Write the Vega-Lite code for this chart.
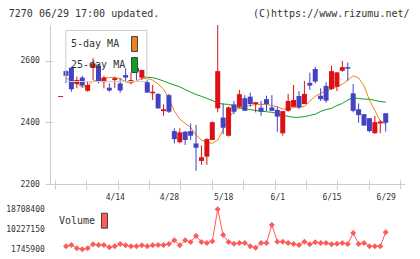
{
"$schema": "https://vega.github.io/schema/vega-lite/v6.json",
"width": 355, "height": 224.3,
"autosize": {"type": "none"},
"padding": {"left": 50, "top": 25, "right": 15, "bottom": 9.7},
"config": {"view": {"stroke": null}, "font": "DejaVu Sans Mono",
 "axis": {"grid": false, "domainColor": "#cccccc", "tickColor": "#cccccc", "labelColor": "#333333", "labelFont": "DejaVu Sans Mono", "labelFontSize": 8, "titleFont": "DejaVu Sans Mono", "titleFontSize": 10, "titleColor": "#333333", "titleFontWeight": "normal"}},
"data": {"values": [
{"i":-1,"d":"3/31","o":2483,"h":2486,"l":2483,"c":2486,"ma5":null,"ma25":null,"v":null},
{"i":0,"d":"4/1","o":2567,"h":2570,"l":2528,"c":2552,"ma5":2544,"ma25":null,"v":3018000},
{"i":1,"d":"4/2","o":2578,"h":2581,"l":2500,"c":2508,"ma5":2538,"ma25":null,"v":3583500},
{"i":2,"d":"4/3","o":2525,"h":2549,"l":2511,"c":2538,"ma5":2528,"ma25":null,"v":2170000},
{"i":3,"d":"4/6","o":2546,"h":2552,"l":2514,"c":2520,"ma5":2514,"ma25":null,"v":1745900},
{"i":4,"d":"4/7","o":2503,"h":2533,"l":2500,"c":2522,"ma5":2519,"ma25":null,"v":2170000},
{"i":5,"d":"4/8","o":2578,"h":2609,"l":2538,"c":2592,"ma5":2535,"ma25":null,"v":3866200},
{"i":6,"d":"4/9","o":2585,"h":2589,"l":2527,"c":2533,"ma5":2538,"ma25":null,"v":3583500},
{"i":7,"d":"4/10","o":2531,"h":2552,"l":2511,"c":2546,"ma5":2545,"ma25":null,"v":3583500},
{"i":8,"d":"4/13","o":2513,"h":2527,"l":2500,"c":2504,"ma5":2546,"ma25":null,"v":2594000},
{"i":9,"d":"4/14","o":2538,"h":2549,"l":2513,"c":2544,"ma5":2546,"ma25":null,"v":3018000},
{"i":10,"d":"4/15","o":2527,"h":2544,"l":2497,"c":2504,"ma5":2543,"ma25":null,"v":4007600},
{"i":11,"d":"4/16","o":2554,"h":2576,"l":2533,"c":2546,"ma5":2532,"ma25":null,"v":3442100},
{"i":12,"d":"4/17","o":2533,"h":2562,"l":2524,"c":2538,"ma5":2528,"ma25":null,"v":3018000},
{"i":13,"d":"4/20","o":2578,"h":2592,"l":2538,"c":2565,"ma5":2535,"ma25":null,"v":3018000},
{"i":14,"d":"4/21","o":2546,"h":2571,"l":2538,"c":2571,"ma5":2544,"ma25":2549,"v":3442100},
{"i":15,"d":"4/22","o":2531,"h":2538,"l":2497,"c":2497,"ma5":2543,"ma25":2547,"v":3018000},
{"i":16,"d":"4/23","o":2495,"h":2522,"l":2473,"c":2500,"ma5":2538,"ma25":2546,"v":3442100},
{"i":17,"d":"4/24","o":2493,"h":2495,"l":2444,"c":2446,"ma5":2525,"ma25":2541,"v":3583500},
{"i":18,"d":"4/27","o":2437,"h":2459,"l":2422,"c":2443,"ma5":2509,"ma25":2535,"v":3583500},
{"i":19,"d":"4/28","o":2489,"h":2493,"l":2431,"c":2435,"ma5":2478,"ma25":2528,"v":4007600},
{"i":20,"d":"4/30","o":2372,"h":2381,"l":2332,"c":2346,"ma5":2437,"ma25":2522,"v":5562500},
{"i":21,"d":"5/1","o":2336,"h":2381,"l":2332,"c":2368,"ma5":2411,"ma25":2516,"v":3442100},
{"i":22,"d":"5/7","o":2370,"h":2372,"l":2327,"c":2343,"ma5":2397,"ma25":2507,"v":5562500},
{"i":23,"d":"5/8","o":2372,"h":2397,"l":2343,"c":2357,"ma5":2384,"ma25":2499,"v":4855700},
{"i":24,"d":"5/11","o":2332,"h":2392,"l":2243,"c":2318,"ma5":2359,"ma25":2491,"v":7400100},
{"i":25,"d":"5/12","o":2275,"h":2325,"l":2262,"c":2287,"ma5":2343,"ma25":2485,"v":4855700},
{"i":26,"d":"5/13","o":2289,"h":2349,"l":2262,"c":2346,"ma5":2335,"ma25":2478,"v":4431600},
{"i":27,"d":"5/14","o":2343,"h":2403,"l":2343,"c":2401,"ma5":2332,"ma25":2472,"v":5138400},
{"i":28,"d":"5/15","o":2446,"h":2717,"l":2433,"c":2567,"ma5":2343,"ma25":2463,"v":18708400},
{"i":29,"d":"5/18","o":2416,"h":2462,"l":2362,"c":2383,"ma5":2376,"ma25":2460,"v":7824100},
{"i":30,"d":"5/19","o":2357,"h":2452,"l":2354,"c":2449,"ma5":2414,"ma25":2459,"v":4855700},
{"i":31,"d":"5/20","o":2459,"h":2470,"l":2427,"c":2435,"ma5":2436,"ma25":2454,"v":4148900},
{"i":32,"d":"5/21","o":2451,"h":2506,"l":2448,"c":2492,"ma5":2447,"ma25":2447,"v":4431600},
{"i":33,"d":"5/22","o":2479,"h":2489,"l":2438,"c":2438,"ma5":2452,"ma25":2445,"v":4431600},
{"i":34,"d":"5/25","o":2484,"h":2497,"l":2451,"c":2460,"ma5":2455,"ma25":2442,"v":3018000},
{"i":35,"d":"5/26","o":2460,"h":2466,"l":2433,"c":2466,"ma5":2459,"ma25":2439,"v":2452700},
{"i":36,"d":"5/27","o":2448,"h":2470,"l":2422,"c":2435,"ma5":2459,"ma25":2437,"v":4431600},
{"i":37,"d":"5/28","o":2476,"h":2487,"l":2437,"c":2460,"ma5":2459,"ma25":2435,"v":4431600},
{"i":38,"d":"5/29","o":2449,"h":2489,"l":2437,"c":2438,"ma5":2455,"ma25":2433,"v":12064700},
{"i":39,"d":"6/1","o":2441,"h":2451,"l":2370,"c":2419,"ma5":2451,"ma25":2429,"v":4997000},
{"i":40,"d":"6/2","o":2365,"h":2437,"l":2357,"c":2437,"ma5":2444,"ma25":2423,"v":4997000},
{"i":41,"d":"6/3","o":2438,"h":2493,"l":2435,"c":2470,"ma5":2444,"ma25":2420,"v":4431600},
{"i":42,"d":"6/4","o":2451,"h":2522,"l":2451,"c":2473,"ma5":2449,"ma25":2417,"v":4007600},
{"i":43,"d":"6/5","o":2486,"h":2502,"l":2443,"c":2449,"ma5":2450,"ma25":2417,"v":3583500},
{"i":44,"d":"6/8","o":2460,"h":2535,"l":2460,"c":2493,"ma5":2452,"ma25":2419,"v":4997000},
{"i":45,"d":"6/9","o":2529,"h":2562,"l":2506,"c":2520,"ma5":2470,"ma25":2423,"v":3866200},
{"i":46,"d":"6/10","o":2574,"h":2581,"l":2527,"c":2533,"ma5":2485,"ma25":2427,"v":4714300},
{"i":47,"d":"6/11","o":2487,"h":2511,"l":2470,"c":2476,"ma5":2495,"ma25":2436,"v":4431600},
{"i":48,"d":"6/12","o":2519,"h":2531,"l":2464,"c":2471,"ma5":2502,"ma25":2442,"v":4431600},
{"i":49,"d":"6/15","o":2509,"h":2585,"l":2506,"c":2567,"ma5":2509,"ma25":2446,"v":3866200},
{"i":50,"d":"6/16","o":2516,"h":2563,"l":2502,"c":2563,"ma5":2517,"ma25":2455,"v":4148900},
{"i":51,"d":"6/17","o":2568,"h":2600,"l":2565,"c":2580,"ma5":2524,"ma25":2462,"v":4431600},
{"i":52,"d":"6/18","o":2580,"h":2595,"l":2535,"c":2575,"ma5":2538,"ma25":2473,"v":4007600},
{"i":53,"d":"6/19","o":2495,"h":2525,"l":2433,"c":2438,"ma5":2552,"ma25":2481,"v":8672200},
{"i":54,"d":"6/22","o":2443,"h":2462,"l":2399,"c":2424,"ma5":2545,"ma25":2478,"v":4007600},
{"i":55,"d":"6/23","o":2427,"h":2427,"l":2390,"c":2390,"ma5":2519,"ma25":2476,"v":4431600},
{"i":56,"d":"6/24","o":2414,"h":2414,"l":2368,"c":2372,"ma5":2473,"ma25":2476,"v":3018000},
{"i":57,"d":"6/25","o":2365,"h":2422,"l":2363,"c":2401,"ma5":2439,"ma25":2472,"v":3018000},
{"i":58,"d":"6/26","o":2397,"h":2408,"l":2365,"c":2403,"ma5":2405,"ma25":2468,"v":3018000},
{"i":59,"d":"6/29","o":2430,"h":2430,"l":2370,"c":2399,"ma5":2393,"ma25":2466,"v":8955000}
]},
"layer": [
 {"layer": [
  {"transform": [{"fold": ["ma5","ma25"], "as": ["series","ma"]}],
   "mark": {"type": "line", "strokeWidth": 1},
   "encoding": {
    "x": {"field": "i", "type": "quantitative", "scale": {"domain": [-2.027, 61.64], "nice": false, "zero": false},
          "axis": {"orient": "bottom", "values": [-2.027, 3.761, 9.55, 15.34, 21.13, 26.92, 32.70, 38.49, 44.28, 50.06, 55.85, 61.64], "labels": false, "domain": false, "ticks": true, "tickSize": 9, "offset": -69.3, "title": null}},
    "y": {"field": "ma", "type": "quantitative", "scale": {"domain": [2200, 2717], "range": [159, 0], "nice": false, "zero": false},
          "axis": {"orient": "left", "values": [2200, 2400, 2600], "format": "d", "domain": false, "tickSize": 8, "offset": -3, "labelPadding": 5.7, "title": null}},
    "stroke": {"field": "series", "type": "nominal", "scale": {"domain": ["ma5","ma25"], "range": ["#f0821e","#10a020"]}, "legend": null}
   }},
  {"mark": {"type": "rule", "strokeWidth": 1},
   "encoding": {
    "x": {"field": "i", "type": "quantitative",
          "axis": {"orient": "bottom", "labels": false, "ticks": false, "domain": true, "offset": -65.3, "title": "(C)https://www.rizumu.net/", "titleX": 359, "titleY": -167.5, "titleAlign": "right", "titleBaseline": "alphabetic"}},
    "y": {"field": "l", "type": "quantitative",
          "axis": {"orient": "left", "labels": false, "ticks": false, "domain": true, "title": "7270 06/29 17:00 updated.", "titleAngle": 0, "titleX": -41.7, "titleY": -8.5, "titleAlign": "left", "titleBaseline": "alphabetic"}},
    "y2": {"field": "h"},
    "color": {"condition": {"test": "datum.c >= datum.o", "value": "#dd1111"}, "value": "#4242c2"}
   }},
  {"mark": {"type": "bar", "width": 5},
   "encoding": {
    "x": {"field": "i", "type": "quantitative",
          "axis": {"orient": "bottom", "values": [9,19,29,39,49,59], "labelExpr": "['4/14','4/28','5/18','6/1','6/15','6/29'][(datum.value-9)/10]", "ticks": false, "domain": false, "labelPadding": 9.5, "offset": -65.3, "labelFlush": false, "labelOverlap": false, "title": null}},
    "y": {"field": "o", "type": "quantitative", "axis": null},
    "y2": {"field": "c"},
    "color": {"condition": {"test": "datum.c >= datum.o", "value": "#dd1111"}, "value": "#4242c2"}
   }},
  {"transform": [{"fold": ["ma5","ma25"], "as": ["series","ma"]}, {"filter": "false"}],
   "mark": {"type": "square", "opacity": 1},
   "encoding": {
    "fill": {"field": "series", "type": "nominal", "scale": {"domain": ["ma5","ma25"], "range": ["#f0821e","#10a020"]},
      "legend": {"orient": "none", "legendX": 15.3, "legendY": 5, "title": null, "symbolType": "M-0.4,-1H0.4V1H-0.4Z", "symbolSize": 225, "symbolStrokeColor": "#444444", "symbolStrokeWidth": 1, "labelFont": "DejaVu Sans Mono", "labelFontSize": 10, "labelColor": "#333333", "labelAlign": "left", "labelOffset": -71.5, "symbolOffset": 55.2, "padding": 6, "rowPadding": 1, "strokeColor": "#cccccc", "labelExpr": "datum.label == 'ma5' ? '\u00a05-day MA' : '25-day MA'"}}
   }}
 ], "resolve": {"axis": {"x": "independent", "y": "independent"}}},
 {"layer": [
  {"mark": {"type": "line", "strokeWidth": 1, "color": "#ff5a5a"},
   "encoding": {
    "x": {"field": "i", "type": "quantitative", "axis": null},
    "y": {"field": "v", "type": "quantitative", "scale": {"domain": [1745900, 18708400], "range": [224.3, 184.3], "nice": false, "zero": false},
          "axis": {"orient": "left", "values": [1745900, 10227150, 18708400], "format": "d", "domain": false, "ticks": false, "labelPadding": 5.7, "title": null}}
   }},
  {"mark": {"type": "point", "shape": "diamond", "filled": true, "size": 36, "opacity": 1},
   "encoding": {
    "x": {"field": "i", "type": "quantitative", "axis": null},
    "y": {"field": "v", "type": "quantitative", "axis": null},
    "fill": {"datum": "Volume", "type": "nominal", "scale": {"range": ["#ff5a5a"]},
      "legend": {"orient": "none", "legendX": 9, "legendY": 187.7, "title": null, "symbolType": "M-0.4,-1H0.4V1H-0.4Z", "symbolSize": 225, "symbolStrokeColor": "#444444", "symbolStrokeWidth": 1, "labelFont": "DejaVu Sans Mono", "labelFontSize": 10, "labelColor": "#333333", "labelAlign": "left", "labelOffset": -53.5, "symbolOffset": 37.5, "padding": 0}}
   }}
 ], "resolve": {"axis": {"x": "independent", "y": "independent"}}}
],
"resolve": {"scale": {"y": "independent", "fill": "independent"}, "axis": {"x": "independent", "y": "independent"}, "legend": {"fill": "independent"}}
}
